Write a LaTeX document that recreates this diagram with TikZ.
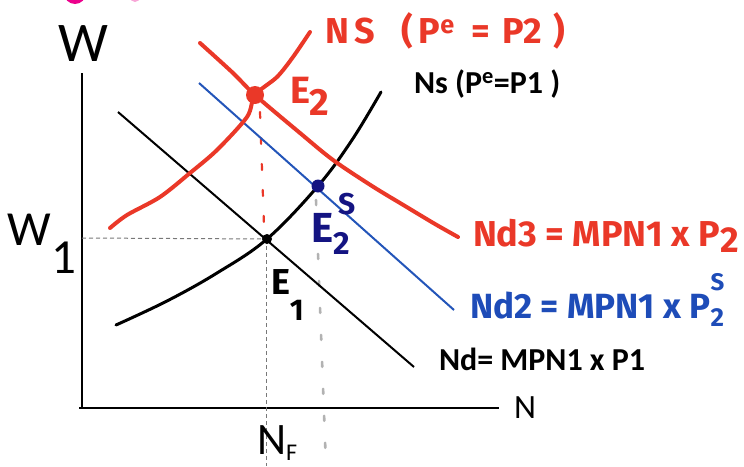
\documentclass[tikz,border=0pt]{standalone}
\usepackage{fontspec}
\setmainfont{Carlito}
\newfontfamily\hand{Fira Sans}
\definecolor{hred}{RGB}{234,56,40}
\definecolor{hblue}{RGB}{30,76,184}
\definecolor{lblue}{RGB}{35,85,185}
\definecolor{hnavy}{RGB}{20,20,130}
\definecolor{dgray}{RGB}{120,120,120}
\begin{document}
\begin{tikzpicture}[x=1pt,y=-1pt,
  lbl/.style={inner sep=0pt, outer sep=0pt, anchor=base west},
  axisline/.style={line width=1.4pt, black},
  blackcurve/.style={line width=3pt, black, line cap=round},
  blackline/.style={line width=2pt, black},
  blueline/.style={line width=2pt, lblue},
  redline/.style={line width=4pt, hred, line cap=round, line join=round},
  gdash/.style={line width=1pt, dgray, dash pattern=on 4pt off 3pt},
  rdash/.style={line width=2.2pt, hred, dash pattern=on 6pt off 20pt, line cap=round},
  gdot/.style={line width=2.6pt, gray!60, dash pattern=on 5pt off 22pt, line cap=round},
  handtext/.style={lbl, font=\hand\bfseries}
]
\useasboundingbox (0,0) rectangle (744,466);
% stray marks at top edge
\begin{scope}
  \clip (0,0) rectangle (744,466);
  \fill[magenta] (75,-7) circle (11);
  \fill[magenta!35] (135,-3) circle (5);
\end{scope}
% axes
\coordinate (ytop) at (82,73);
\coordinate (O) at (82,408);
\coordinate (xstart) at (79,408);
\coordinate (xend) at (499,408);
\draw[axisline] (ytop) -- (O);
\draw[axisline] (xstart) -- (xend);
% points
\coordinate (E1) at (267,239);
\coordinate (E2) at (255,95);
\coordinate (E2S) at (318,186);
\coordinate (W1p) at (82,238);
\coordinate (NFtop) at (266,239);
\coordinate (NFp) at (266,466);
\coordinate (rdtop) at (260,112);
\coordinate (rdbot) at (264,226);
\coordinate (gdtop) at (316,200);
\coordinate (gdbot) at (326,466);
% guide lines
\draw[gdash] (W1p) -- (E1);
\draw[gdash] (NFtop) -- (NFp);
\draw[rdash] (rdtop) -- (rdbot);
\draw[gdot] (gdtop) -- (gdbot);
% Nd (black straight)
\coordinate (nd1a) at (118,112);
\coordinate (nd1b) at (414,367);
\draw[blackline] (nd1a) -- (nd1b);
% Nd2 (blue)
\coordinate (nd2a) at (199,83);
\coordinate (nd2b) at (454,310);
\draw[blueline] (nd2a) -- (nd2b);
% Ns (black curve)
\draw[blackcurve] plot[smooth, tension=0.6] coordinates {(116,325) (167,301) (217,273) (267,239) (318,186) (352,140) (381,92)};
% Nd3 (red)
\draw[redline] plot[smooth, tension=0.5] coordinates {(200,43) (233,73) (255,95) (300,133) (333,160) (372,186) (405,206) (435,224) (458,237)};
% NS (red)
\draw[redline] plot[smooth, tension=0.5] coordinates {(110,228) (127,215) (160,197) (190,173) (217,150) (247,117) (255,95) (277,77) (293,57) (310,32)};
% dots
\fill[hred] (E2) circle (9);
\fill[black] (E1) circle (5);
\fill[hnavy] (E2S) circle (6.5);
% axis labels
\node[lbl] (Wlab) at (58,61) {\fontsize{56}{60}\selectfont W};
\node[lbl] (W1lab) at (8,245) {\fontsize{49}{55}\selectfont W\raisebox{-28pt}{1}};
\node[lbl] (Nlab) at (514,418) {\fontsize{34}{40}\selectfont N};
\node[lbl] (NFlab) at (257,454) {\fontsize{45}{50}\selectfont N\raisebox{-6pt}{\fontsize{24}{28}\selectfont F}};
% black printed labels
\node[lbl, font=\bfseries] (nslab) at (414,93) {\fontsize{32}{36}\selectfont Ns (P\textsuperscript{e}=P1 )};
\node[lbl, font=\bfseries] (ndlab) at (439,370) {\fontsize{32}{36}\selectfont Nd= MPN1 x P1};
% handwritten labels
\node[handtext, text=hred] (ns2lab) at (325,43) {\fontsize{36}{40}\selectfont N\,S\ \ \ (\,P\textsuperscript{e}\ \ =\,\,P2\,\,)};
\node[handtext, text=hred] (e2lab) at (290,103) {\fontsize{38}{40}\selectfont E\raisebox{-12pt}{2}};
\node[handtext, text=hred] (nd3lab) at (473,246) {\fontsize{36}{40}\selectfont Nd3 = MPN1 x P\raisebox{-6pt}{2}};
\node[handtext, text=hblue] (nd2lab) at (470,318) {\fontsize{35}{40}\selectfont Nd2 = MPN1 x P\makebox[0pt][l]{\raisebox{-8pt}{\fontsize{26}{30}\selectfont 2}}\raisebox{28pt}{\fontsize{24}{30}\selectfont S}};
\node[handtext, text=hnavy] (e2slab) at (311,242) {\fontsize{42}{48}\selectfont E\makebox[0pt][l]{\raisebox{-12pt}{\fontsize{32}{36}\selectfont 2}}\raisebox{28pt}{\fontsize{30}{36}\selectfont\,S}};
\node[handtext, text=black] (e1lab) at (271,294) {\fontsize{36}{40}\selectfont E\raisebox{-26pt}{\fontsize{30}{36}\selectfont 1}};
\end{tikzpicture}
\end{document}
